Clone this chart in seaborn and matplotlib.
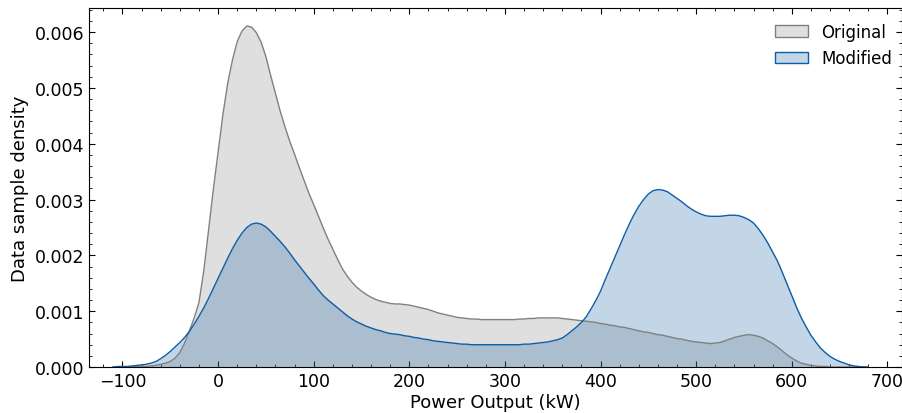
import numpy as np
import pandas as pd
import matplotlib
matplotlib.use("Agg")
import matplotlib.pyplot as plt
import seaborn as sns
from matplotlib.patches import Patch
from matplotlib.ticker import MultipleLocator, FormatStrFormatter

# Power output grid (kW), 5 kW steps from -110 to 680
power_kw = list(range(-110, 681, 5))

# Densities (one value per grid point)
original_density = [
    0.0, 0.0, 0.0, 0.0, 0.0, 0.00001, 0.00001, 0.00001, 0.00002, 0.00003,          # -110 .. -65
    0.00005, 0.00007, 0.00010, 0.00016, 0.00026, 0.00043, 0.00065, 0.00088, 0.00116, 0.00172,  # -60 .. -15
    0.00245, 0.00318, 0.00385, 0.00452, 0.00508, 0.00550, 0.00583, 0.00602, 0.00611, 0.00609,  # -10 .. 35
    0.00599, 0.00582, 0.00556, 0.00522, 0.00490, 0.00458, 0.00430, 0.00404, 0.00381, 0.00357,  # 40 .. 85
    0.00334, 0.00311, 0.00291, 0.00270, 0.00249, 0.00229, 0.00211, 0.00193, 0.00176, 0.00163,  # 90 .. 135
    0.00152, 0.00143, 0.00136, 0.00130, 0.00125, 0.00121, 0.00118, 0.00116, 0.00114, 0.00113,  # 140 .. 185
    0.00113, 0.00112, 0.00111, 0.00109, 0.00107, 0.00105, 0.00103, 0.00100, 0.00097, 0.00095,  # 190 .. 235
    0.00093, 0.00091, 0.00089, 0.00088, 0.00087, 0.00086, 0.00086, 0.00085, 0.00085, 0.00085,  # 240 .. 285
    0.00085, 0.00085, 0.00085, 0.00085, 0.00085, 0.00086, 0.00086, 0.00087, 0.00087, 0.00088,  # 290 .. 335
    0.00088, 0.00088, 0.00088, 0.00088, 0.00087, 0.00086, 0.00085, 0.00084, 0.00083, 0.00082,  # 340 .. 385
    0.00081, 0.00080, 0.00078, 0.00077, 0.00075, 0.00074, 0.00072, 0.00071, 0.00069, 0.00067,  # 390 .. 435
    0.00065, 0.00063, 0.00062, 0.00060, 0.00058, 0.00057, 0.00055, 0.00053, 0.00051, 0.00050,  # 440 .. 485
    0.00048, 0.00046, 0.00045, 0.00044, 0.00043, 0.00042, 0.00043, 0.00044, 0.00047, 0.00050,  # 490 .. 535
    0.00053, 0.00055, 0.00057, 0.00058, 0.00057, 0.00055, 0.00052, 0.00047, 0.00042, 0.00036,  # 540 .. 585
    0.00029, 0.00022, 0.00016, 0.00011, 0.00007, 0.00005, 0.00003, 0.00002, 0.00001, 0.00001,  # 590 .. 635
    0.0, 0.0, 0.0, 0.0, 0.0, 0.0, 0.0, 0.0, 0.0,                                                # 640 .. 680
]

modified_density = [
    0.0, 0.00001, 0.00001, 0.00001, 0.00002, 0.00003, 0.00004, 0.00005, 0.00007, 0.00010,      # -110 .. -65
    0.00015, 0.00021, 0.00028, 0.00036, 0.00044, 0.00053, 0.00064, 0.00077, 0.00091, 0.00106,  # -60 .. -15
    0.00123, 0.00141, 0.00159, 0.00177, 0.00195, 0.00212, 0.00227, 0.00240, 0.00250, 0.00256,  # -10 .. 35
    0.00258, 0.00256, 0.00251, 0.00243, 0.00234, 0.00225, 0.00215, 0.00204, 0.00192, 0.00181,  # 40 .. 85
    0.00170, 0.00159, 0.00149, 0.00138, 0.00128, 0.00120, 0.00113, 0.00106, 0.00099, 0.00092,  # 90 .. 135
    0.00086, 0.00081, 0.00077, 0.00073, 0.00070, 0.00067, 0.00065, 0.00062, 0.00060, 0.00059,  # 140 .. 185
    0.00058, 0.00056, 0.00055, 0.00053, 0.00052, 0.00050, 0.00049, 0.00047, 0.00046, 0.00045,  # 190 .. 235
    0.00044, 0.00043, 0.00042, 0.00041, 0.00041, 0.00040, 0.00040, 0.00040, 0.00040, 0.00040,  # 240 .. 285
    0.00040, 0.00040, 0.00040, 0.00040, 0.00040, 0.00040, 0.00041, 0.00041, 0.00042, 0.00043,  # 290 .. 335
    0.00044, 0.00045, 0.00047, 0.00049, 0.00052, 0.00058, 0.00065, 0.00072, 0.00080, 0.00090,  # 340 .. 385
    0.00104, 0.00119, 0.00136, 0.00157, 0.00177, 0.00197, 0.00217, 0.00237, 0.00256, 0.00273,  # 390 .. 435
    0.00288, 0.00300, 0.00310, 0.00316, 0.00318, 0.00317, 0.00314, 0.00308, 0.00302, 0.00296,  # 440 .. 485
    0.00289, 0.00283, 0.00278, 0.00274, 0.00271, 0.00270, 0.00270, 0.00270, 0.00271, 0.00272,  # 490 .. 535
    0.00272, 0.00271, 0.00268, 0.00264, 0.00258, 0.00248, 0.00236, 0.00222, 0.00206, 0.00190,  # 540 .. 585
    0.00170, 0.00149, 0.00128, 0.00107, 0.00088, 0.00072, 0.00057, 0.00045, 0.00034, 0.00026,  # 590 .. 635
    0.00019, 0.00014, 0.00010, 0.00007, 0.00004, 0.00002, 0.00001, 0.0, 0.0,                   # 640 .. 680
]

series_names = ["Original", "Modified"]
edge_colors = {"Original": "#808080", "Modified": "#0C5DA5"}
fill_alpha = 0.25

sns.set_style("ticks")
plt.rcParams["font.family"] = ["DejaVu Sans"]
plt.rcParams.update({
    "xtick.direction": "in", "ytick.direction": "in",
    "xtick.top": True, "ytick.right": True,
    "xtick.major.size": 4, "ytick.major.size": 4,
    "xtick.minor.size": 2, "ytick.minor.size": 2,
    "xtick.minor.visible": True, "ytick.minor.visible": True,
    "axes.linewidth": 0.8,
    "axes.edgecolor": "black", "text.color": "black", "axes.labelcolor": "black",
    "xtick.color": "black", "ytick.color": "black",
})

df = pd.DataFrame({
    "Power Output (kW)": power_kw * 2,
    "density": original_density + modified_density,
    "series": ["Original"] * len(power_kw) + ["Modified"] * len(power_kw),
})

fig = plt.figure(figsize=(9.03, 4.14), dpi=100)
ax = fig.add_axes([0.0986, 0.111, 0.9, 0.867])

for name, vals in zip(series_names, [original_density, modified_density]):
    ax.fill_between(power_kw, vals, 0, color=edge_colors[name], alpha=fill_alpha, linewidth=0)

sns.lineplot(data=df, x="Power Output (kW)", y="density", hue="series",
             palette=edge_colors, hue_order=series_names, linewidth=1.0,
             legend=False, ax=ax, sort=True)

ax.set_xlim(-135, 715)
ax.set_ylim(0, 0.00643)
ax.xaxis.set_major_locator(MultipleLocator(100))
ax.xaxis.set_minor_locator(MultipleLocator(20))
ax.yaxis.set_major_locator(MultipleLocator(0.001))
ax.yaxis.set_minor_locator(MultipleLocator(0.0002))
ax.yaxis.set_major_formatter(FormatStrFormatter("%.3f"))
ax.tick_params(labelsize=12.5, which="both", top=True, right=True)
ax.set_xlabel("Power Output (kW)", fontsize=13, labelpad=2)
ax.set_ylabel("Data sample density", fontsize=13)

handles = [Patch(facecolor=matplotlib.colors.to_rgba(edge_colors[n], fill_alpha),
                 edgecolor=edge_colors[n], linewidth=1.0, label=n) for n in series_names]
ax.legend(handles=handles, loc="upper right", frameon=False, fontsize=12,
          bbox_to_anchor=(1.007, 1.0))

fig.savefig("out.png", dpi=100)
